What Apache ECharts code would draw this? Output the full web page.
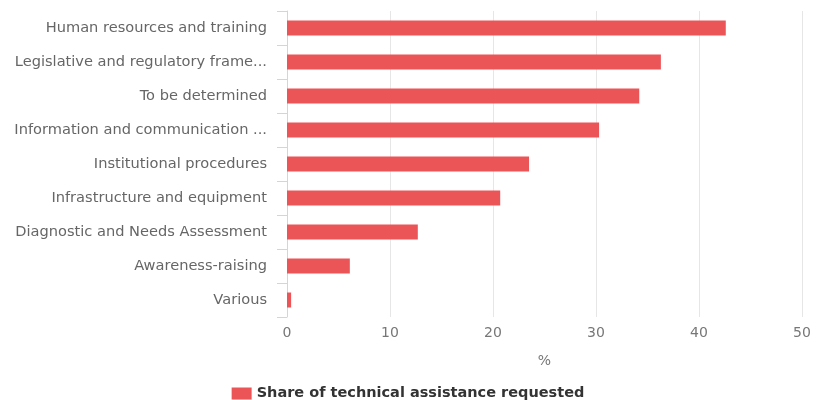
<!DOCTYPE html>
<html>
<head>
<meta charset="utf-8">
<script src="https://cdn.jsdelivr.net/npm/echarts@6/dist/echarts.min.js"></script>
<style>html,body{margin:0;padding:0;background:#fff}#c{width:816px;height:400px}</style>
</head>
<body>
<div id="c"></div>
<script>
var categories = [
  "Human resources and training",
  "Legislative and regulatory frame...",
  "To be determined",
  "Information and communication ...",
  "Institutional procedures",
  "Infrastructure and equipment",
  "Diagnostic and Needs Assessment",
  "Awareness-raising",
  "Various"
];
var shareValues = [42.6, 36.3, 34.2, 30.3, 23.5, 20.7, 12.7, 6.1, 0.4];
var xTicks = [0, 10, 20, 30, 40, 50];
var seriesName = "Share of technical assistance requested";

var chart = echarts.init(document.getElementById('c'), null, {renderer: 'canvas'});
chart.setOption({
  animation: false,
  textStyle: {fontFamily: 'DejaVu Sans'},
  grid: {left: 287, right: 14, top: 11, bottom: 83, containLabel: false},
  legend: {
    top: 381,
    left: 'center',
    itemWidth: 20,
    itemHeight: 12,
    itemGap: 8,
    icon: 'rect',
    textStyle: {fontFamily: 'DejaVu Sans', fontSize: 14.5, fontWeight: 'bold', color: '#333'},
    data: [seriesName]
  },
  xAxis: {
    type: 'value',
    min: xTicks[0],
    max: xTicks[xTicks.length - 1],
    interval: 10,
    name: '%',
    nameLocation: 'middle',
    nameGap: 37,
    nameTextStyle: {color: '#777', fontSize: 14},
    axisLine: {show: false},
    axisTick: {show: false},
    axisLabel: {color: '#777', fontSize: 14, margin: 9},
    splitLine: {lineStyle: {color: '#e6e6e6', width: 1}}
  },
  yAxis: {
    type: 'category',
    inverse: true,
    data: categories,
    axisLine: {show: true, lineStyle: {color: '#ccd6eb'}},
    axisTick: {show: true, length: 10, lineStyle: {color: '#ccd6eb'}},
    axisLabel: {color: '#666', fontSize: 14.6, margin: 20},
    splitLine: {show: false}
  },
  series: [{
    name: seriesName,
    type: 'bar',
    data: shareValues,
    barWidth: 15,
    itemStyle: {color: '#ec5558'}
  }]
});
</script>
</body>
</html>
